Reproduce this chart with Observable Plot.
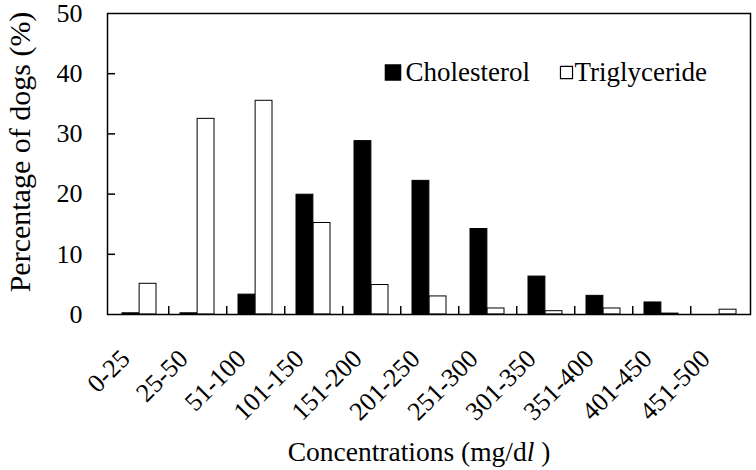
<!DOCTYPE html>
<html>
<head>
<meta charset="utf-8">
<script src="https://cdn.jsdelivr.net/npm/d3@7"></script>
<script src="https://cdn.jsdelivr.net/npm/@observablehq/plot@0.6"></script>
<style>
  body { margin: 0; background: #fff; }
  #chart svg { display: block; }
</style>
</head>
<body>
<div id="chart"></div>
<script>
const categories = ["0-25","25-50","51-100","101-150","151-200","201-250","251-300","301-350","351-400","401-450","451-500"];
const cholesterol = [0.2, 0.2, 3.3, 19.9, 28.8, 22.2, 14.2, 6.3, 3.1, 2.0, 0];
const triglyceride = [5.1, 32.5, 35.5, 15.2, 4.9, 3.0, 1.0, 0.55, 1.0, 0.15, 0.8];
const yTicks = [0, 10, 20, 30, 40, 50];
const seriesNames = ["Cholesterol", "Triglyceride"];

const FONT = "'Liberation Serif', 'Times New Roman', serif";
const W = 756, H = 470;
const mL = 107, mR = 6, mT = 13, mB = 156;
const plotW = W - mL - mR, plotH = H - mT - mB;
const padInner = 0.414, padOuter = 0.207;
const step = plotW / (categories.length - padInner + 2 * padOuter);
const halfBand = step * (1 - padInner) / 2;

const chol = categories.map((c, i) => ({cat: c, value: cholesterol[i]}));
const trig = categories.map((c, i) => ({cat: c, value: triglyceride[i]}));

const chart = Plot.plot({
  width: W,
  height: H,
  marginLeft: mL,
  marginRight: mR,
  marginTop: mT,
  marginBottom: mB,
  style: {fontFamily: FONT, fontSize: "26px", color: "black", background: "white"},
  x: {domain: categories, paddingInner: padInner, paddingOuter: padOuter, label: null},
  y: {domain: [0, 50], label: null},
  marks: [
    Plot.barY(chol, {x: "cat", y: "value", fill: "black", stroke: "black", strokeWidth: 1, insetRight: halfBand}),
    Plot.barY(trig, {x: "cat", y: "value", fill: "white", stroke: "black", strokeWidth: 1, insetLeft: halfBand}),
    Plot.ruleX(categories.slice(0, -1), {x: d => d, dx: step / 2, stroke: "black", strokeWidth: 1.5, insetTop: plotH - 8}),
    Plot.ruleY(yTicks.slice(1, -1), {y: d => d, stroke: "black", strokeWidth: 1.5, insetRight: plotW - 8}),
    Plot.frame({stroke: "black", strokeWidth: 1.5}),
    Plot.axisY({ticks: yTicks, tickSize: 0, tickPadding: 25, fontSize: 26, fontFamily: FONT, label: null}),
    Plot.axisX({tickSize: 0, tickPadding: 40, dx: -14, tickRotate: -45, fontSize: 26, fontFamily: FONT, label: null}),
    // legend
    Plot.dot([seriesNames[0]], {frameAnchor: "top-left", dx: 285.5, dy: 59, symbol: "square", r: 8.5, fill: "black", stroke: "black"}),
    Plot.text([seriesNames[0]], {text: d => d, frameAnchor: "top-left", dx: 298, dy: 59, textAnchor: "start", lineAnchor: "middle", fontSize: 27, fontFamily: FONT}),
    Plot.dot([seriesNames[1]], {frameAnchor: "top-left", dx: 459, dy: 59, symbol: "square", r: 6.8, fill: "white", stroke: "black", strokeWidth: 1.2}),
    Plot.text([seriesNames[1]], {text: d => d, frameAnchor: "top-left", dx: 467, dy: 59, textAnchor: "start", lineAnchor: "middle", fontSize: 27, fontFamily: FONT}),
    // axis titles
    Plot.text(["Percentage of dogs (%)"], {text: d => d, frameAnchor: "left", dx: -87, dy: -12, rotate: -90, textAnchor: "middle", lineAnchor: "middle", fontSize: 30, fontFamily: FONT}),
    Plot.text(["Concentrations (mg/dl )"], {text: d => d, frameAnchor: "bottom", dx: -10, dy: 146, lineAnchor: "bottom", fontSize: 27.5, fontFamily: FONT})
  ]
});

// make the "l" in mg/dl italic
d3.select(chart).selectAll("text").each(function() {
  const t = d3.select(this);
  if (t.text() === "Concentrations (mg/dl )") {
    t.text(null);
    t.append("tspan").text("Concentrations (mg/d");
    t.append("tspan").attr("font-style", "italic").text("l");
    t.append("tspan").text(" )");
  }
});

document.getElementById("chart").appendChild(chart);
</script>
</body>
</html>
